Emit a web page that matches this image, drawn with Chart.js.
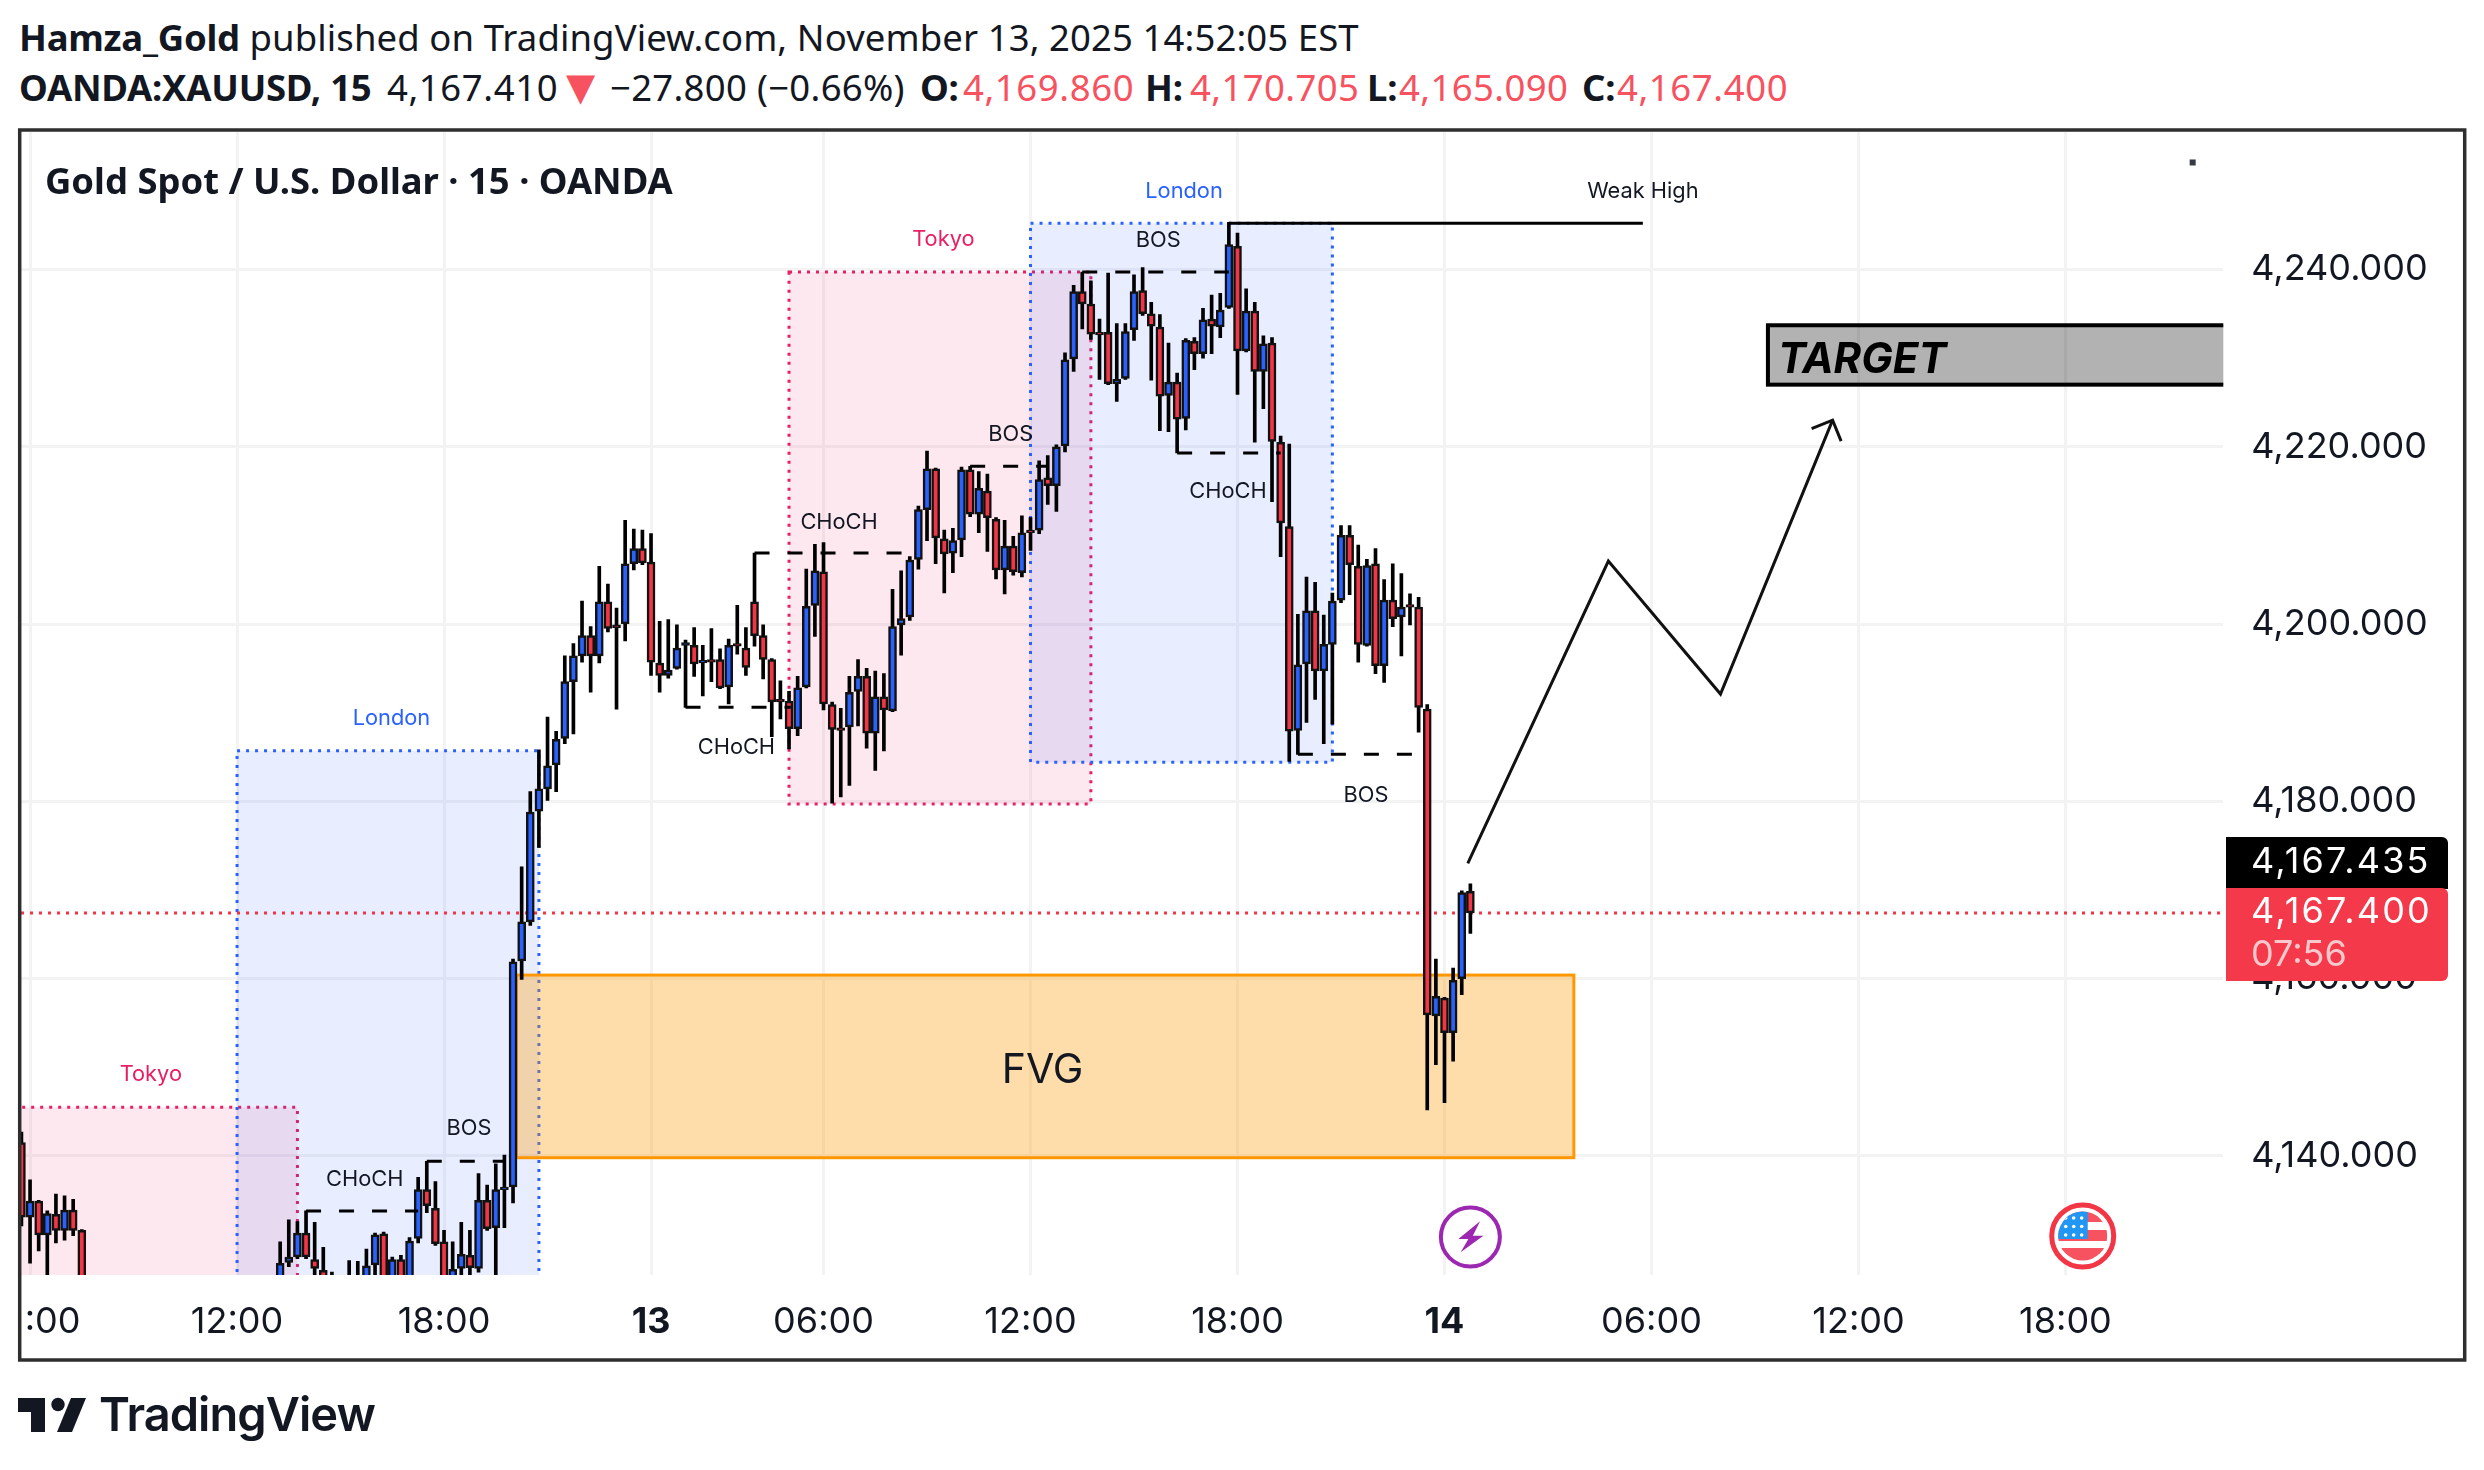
<!DOCTYPE html>
<html lang="en">
<head>
  <meta charset="UTF-8">
  <title>Gold Spot / U.S. Dollar</title>
  <script src="https://cdn.jsdelivr.net/npm/chart.js"></script>
  <style>
    html, body { margin: 0; padding: 0; background: #fff; }
    body { width: 2484px; height: 1470px; position: relative; overflow: hidden; color: #131722; }
    #myChart { position: absolute; left: 0; top: 0; }
    .head { position: absolute; left: 19px; font-family: "Noto Sans", sans-serif; font-size: 36.5px; line-height: 50px; white-space: nowrap; letter-spacing: 0.1px; }
    .head b { font-weight: 700; letter-spacing: -0.25px; }
    .head span { position: absolute; top: 0; }
    .num { letter-spacing: 0.6px; }
    .red { color: #f7525f; }
    .tri { font-family: "DejaVu Sans", sans-serif; font-size: 38px; }
    #title { position: absolute; left: 45px; top: 155px; font-family: "Noto Sans", sans-serif; font-weight: 700; font-size: 36.4px; line-height: 50px; white-space: nowrap; }
    #logoText { position: absolute; left: 99px; top: 1384px; font-family: Inter, sans-serif; font-weight: 600; font-size: 47px; line-height: 60px; letter-spacing: -0.95px; }
    #logo { position: absolute; left: 18px; top: 1397px; }
  </style>
</head>
<body>

  <div class="head" style="top:12px"><b>Hamza_Gold</b> published on TradingView.com, November 13, 2025 14:52:05 EST</div>
  <div class="head" style="top:62px;left:0">
    <span style="left:19px"><b>OANDA:XAUUSD, 15</b></span>
    <span class="num" style="left:387px">4,167.410</span>
    <span class="red tri" style="left:566px">▼</span>
    <span style="left:610px;letter-spacing:0.3px">−27.800 (−0.66%)</span>
    <span style="left:920px"><b>O:</b></span>
    <span class="red num" style="left:963px">4,169.860</span>
    <span style="left:1145px"><b>H:</b></span>
    <span class="red" style="left:1190px;letter-spacing:0.4px">4,170.705</span>
    <span style="left:1367px"><b>L:</b></span>
    <span class="red" style="left:1399px;letter-spacing:0.4px">4,165.090</span>
    <span style="left:1582px"><b>C:</b></span>
    <span class="red num" style="left:1617px">4,167.400</span>
  </div>

  <canvas id="myChart" width="2484" height="1470"></canvas>
  <div id="title">Gold Spot / U.S. Dollar · 15 · OANDA</div>

  <svg id="logo" width="70" height="36" viewBox="0 0 70 36">
    <path fill="#131722" d="M0 1H27V35H13V15H0Z"/>
    <circle fill="#131722" cx="40" cy="7.5" r="6.7"/>
    <path fill="#131722" d="M68 1H53L39 35H54Z"/>
  </svg>
  <div id="logoText">TradingView</div>

<script>
  // bar number -> o/h/l/c. nulls are bars that sit below the visible range
  const opens = [4141.5,4133.1,4134.9,4131.1,4133.4,4131.6,4133.9,4131.6,
    null,null,null,null,null,null,null,null,null,null,null,null,null,null,null,null,null,null,null,null,null,null,
    4124,4128,4128.6,4131.3,4128.3,4127.1,4126,4125,4124,4125,4125.5,4127.7,4131.2,4125.5,4128.3,4125.5,4130.7,4136.2,4134.1,4130.3,
    4125.5,4127.3,4128.8,4127.3,4135,4131.9,4136.2,4136.5,4162,4166.4,4178.9,4181.4,4184.1,4187.1,4193.5,4196.4,4198.7,4196.4,4202.5,4199.9,
    4200,4206.8,4208.5,4207,4195.6,4194.2,4195,4197.6,4197.6,4195.6,4196,4196,4192.9,4197.8,4197.3,4202.5,4198.7,4196,4191.5,4191.3,
    4188.2,4192.9,4202.1,4205.9,4190.9,4188.3,4188.4,4192.4,4194.1,4187.7,4191.8,4190.2,4199.9,4200.8,4207.3,4212.9,4217.5,4209.6,4208,4209.5,
    4217.4,4212.4,4215,4211.8,4206.1,4208.8,4205.8,4210.6,4210.6,4216.5,4215.6,4220.1,4229.9,4237.5,4236.1,4232.9,4232.9,4227.1,4227.7,4233.2,
    4237.6,4235,4233.5,4225.8,4227.3,4223.2,4231.9,4230.5,4234.4,4233.5,4235.7,4242.6,4230.8,4235.3,4228.5,4231.7,4220.5,4211,4188,4195.5,
    4201.5,4194.7,4197.7,4202.7,4210,4206.5,4197.6,4206.8,4195.3,4202.7,4200.8,4202.2,4201.9,4190.4,4155.8,4157.8,4153.9,4160,4169.86];
  const highs = [4142.7,4137.3,4135,4133.8,4135.7,4135.5,4135.1,4131.7,
    null,null,null,null,null,null,null,null,null,null,null,null,null,null,null,null,null,null,null,null,null,null,
    4130.3,4132.8,4132.6,4133.8,4132.5,4129.7,4126.9,4126,4128.2,4128.1,4129.5,4131.3,4131.4,4128.6,4128.8,4130.8,4137.6,4139.4,4137.1,4131.6,
    4130.3,4132.5,4131.6,4138,4136.7,4139.1,4140.1,4162.2,4172.6,4181.1,4185.8,4189.5,4187.9,4196.4,4197.8,4202.6,4199.7,4206.5,4204.5,4201.8,
    4211.7,4210.7,4210.6,4210.2,4200.3,4200.5,4199.9,4198.2,4199.6,4197.6,4199.5,4197.2,4198.3,4202.1,4199.6,4208,4199.9,4196.1,4193.6,4192.4,
    4194.1,4206.2,4209,4209.2,4191.2,4190.5,4194.1,4196,4195,4194.7,4194.4,4203.9,4206,4207.6,4213.3,4219.5,4217.6,4210.6,4210.8,4217.7,
    4217.8,4217.2,4216.9,4212,4211.7,4209.9,4212.2,4212,4218.4,4219,4220.2,4230.6,4238.2,4239.7,4238.7,4234.4,4239.6,4233.9,4233.9,4239.4,
    4240.2,4236.3,4234.9,4231.7,4228.3,4232.2,4232.3,4235.6,4237.1,4237.3,4245.3,4244.1,4237.8,4236.3,4232.5,4232.3,4221.2,4220.3,4201.1,4205.3,
    4204.7,4201,4203.5,4211.1,4211.1,4208.9,4207.3,4208.5,4205,4206.8,4205.7,4203.4,4203,4190.9,4162.2,4157.9,4161.2,4169.9,4170.705];
  const lows = [4132.1,4127.9,4129.3,4125,4130.2,4130.5,4131,4120,
    null,null,null,null,null,null,null,null,null,null,null,null,null,null,null,null,null,null,null,null,null,null,
    4123,4127.5,4128.4,4128.4,4125,4124,4124,4123,4123,4124,4124,4125,4125,4124,4124,4125,4130.2,4133.6,4129.9,4124.5,
    4124,4125,4125,4126.9,4131.6,4125,4131.9,4134.7,4159.9,4166,4174.8,4180.1,4181.1,4186.5,4187.6,4195.7,4192.3,4195.6,4199.1,4190.4,
    4198.1,4206.1,4206.7,4194.2,4192.3,4193.9,4194.9,4190.6,4194.1,4191.9,4193.5,4192.7,4191,4196.6,4194.2,4197.5,4193.8,4187.3,4189.3,4185.9,
    4187.4,4192.8,4198.6,4190.3,4179.8,4180.5,4181.8,4188.5,4186,4183.5,4185.7,4190.1,4196.5,4200.4,4206.2,4209.4,4206.8,4203.5,4205.8,4207.6,
    4212.1,4210.3,4208.2,4205.1,4203.4,4205.5,4205.3,4208.3,4210.2,4213.5,4212.7,4219.4,4228.5,4233.3,4232.1,4227.6,4227,4225.1,4227.6,4232,
    4234.8,4227.5,4221.8,4221.7,4219.3,4221.9,4228.7,4230,4230.5,4232.3,4235.6,4225.9,4230.7,4220.5,4224.3,4213.8,4207.6,4184.5,4185.3,4188.9,
    4191.5,4186.5,4188.7,4202.4,4203.3,4195.7,4197.5,4194.4,4193.4,4199.7,4196.4,4199.9,4187.8,4145.2,4150.3,4146,4150.7,4158.2,4165.09];
  const closes = [4133.1,4134.9,4131.1,4133.5,4131.6,4133.9,4131.6,4122,
    null,null,null,null,null,null,null,null,null,null,null,null,null,null,null,null,null,null,null,null,null,null,
    4127.9,4128.6,4131.3,4128.6,4127.3,4126,4125,4124.5,4125,4125.5,4127.6,4131.1,4125.5,4128.3,4125.5,4130.4,4136.2,4134.4,4130.1,4125.5,
    4127.2,4128.9,4127.4,4135,4131.8,4136.2,4136.5,4161.9,4166.4,4178.8,4181.4,4184,4187,4193.5,4196.4,4198.7,4196.4,4202.5,4199.5,4199.6,
    4206.8,4208.5,4206.9,4195.7,4194.2,4194.8,4197.3,4197.9,4195.5,4195.9,4195.7,4192.8,4197.6,4197.5,4195.1,4198.7,4196,4191.2,4191.2,4188.2,
    4192.8,4202,4206,4191,4188.1,4188,4192.3,4194.1,4187.7,4191.8,4190.3,4199.7,4200.6,4207.2,4212.9,4217.5,4209.7,4207.9,4209.4,4217.4,
    4212.4,4215.3,4212,4206.1,4208.8,4205.9,4210.3,4210.3,4216.3,4215.6,4220,4229.8,4237.5,4236.1,4232.7,4232.6,4227.1,4227.6,4233,4237.5,
    4235,4233.6,4225.7,4227.3,4223.1,4232,4230.5,4234.3,4233.6,4235.4,4242.8,4230.8,4235.3,4228.5,4231.6,4220.6,4211.4,4187.9,4195.4,4201.5,
    4194.7,4197.7,4202.6,4210,4206.7,4197.7,4206.6,4195.3,4202.7,4200.6,4201.9,4201.9,4190.6,4155.9,4158,4153.9,4159.8,4169.7,4167.4];

  const xMin = -0.05;
  const xMax = 255.3;
  const yMin = 4126.57;
  const yMax = 4255.5;
  const priceTicks = [4140, 4160, 4180, 4200, 4220, 4240];
  const timePositions = [1, 25, 49, 73, 93, 117, 141, 165, 189, 213, 237];
  const timeLabels = ['06:00', '12:00', '18:00', '13', '06:00', '12:00', '18:00', '14', '06:00', '12:00', '18:00'];
  const dayLabels = ['13', '14'];

  // x0, x1 in bars, y0, y1 in price
  const tokyoZones = [[-2, 32, 4145.5, 4100], [89, 124, 4239.7, 4179.7]];
  const londonZones = [[25, 60, 4185.7, 4100], [117, 152, 4245.2, 4184.4]];
  const fvgZone = [57.4, 180, 4160.4, 4139.8];
  const targetZone = [202.5, 270, 4233.7, 4227];

  // bar, bar, price
  const dashedLines = [
    [47, 56, 4139.4], [33, 46, 4133.8], [77, 89.2, 4190.6], [85, 103, 4208],
    [110, 119, 4217.8], [123, 140, 4239.7], [134, 146, 4219.3], [148, 161.5, 4185.3]
  ];
  const weakHighLine = [140, 188, 4245.2];
  const pathBars = [167.7, 184, 197, 210];
  const pathPrices = [4173, 4207.1, 4192.1, 4223];

  const noteTexts = ['CHoCH', 'BOS', 'CHoCH', 'CHoCH', 'BOS', 'BOS', 'CHoCH', 'BOS', 'Weak High'];
  const noteBars = [39.8, 51.9, 82.9, 94.8, 114.7, 131.8, 139.9, 155.9, 188];
  const notePrices = [4137.4, 4143.1, 4186.1, 4211.5, 4221.4, 4243.3, 4214.9, 4180.7, 4248.8];
  const sessionTexts = ['Tokyo', 'London', 'Tokyo', 'London'];
  const sessionBars = [15, 42.9, 106.9, 134.8];
  const sessionPrices = [4149.2, 4189.3, 4243.4, 4248.8];

  const lastPrice = 4167.4;
  const eventBar = 168;
  const flagBar = 239;

  const tickFont = 'Inter, sans-serif';
  const upColor = '#2962ff';
  const downColor = '#f23645';

  function fmt(v) {
    return v.toLocaleString('en-US', { minimumFractionDigits: 3, maximumFractionDigits: 3 });
  }

  var wickData = [];
  var bodyData = [];
  var bodyColors = [];
  opens.forEach(function (o, i) {
    if (o === null) return;
    wickData.push({ x: i, y: [lows[i], highs[i]] });
    bodyData.push({ x: i, y: [o, closes[i]] });
    bodyColors.push(closes[i] >= o ? upColor : downColor);
  });

  function edgeStroke(ctx, color, a, b, c, d) {
    ctx.strokeStyle = color;
    ctx.lineWidth = 3;
    ctx.setLineDash([3, 6]);
    ctx.beginPath();
    ctx.moveTo(a, c); ctx.lineTo(b, c); ctx.lineTo(b, d); ctx.lineTo(a, d); ctx.closePath();
    ctx.stroke();
    ctx.setLineDash([]);
  }

  const drawings = {
    id: 'drawings',
    beforeDatasetsDraw(chart) {
      const ctx = chart.ctx, x = chart.scales.x, y = chart.scales.y, area = chart.chartArea;
      ctx.save();
      ctx.beginPath();
      ctx.rect(area.left, area.top, area.right - area.left, area.bottom - area.top);
      ctx.clip();

      tokyoZones.forEach(function (z) {
        const a = x.getPixelForValue(z[0]), b = x.getPixelForValue(z[1]), c = y.getPixelForValue(z[2]), d = y.getPixelForValue(z[3]);
        ctx.fillStyle = 'rgba(233,30,99,0.1)';
        ctx.fillRect(a, c, b - a, d - c);
        edgeStroke(ctx, '#e91e63', a, b, c, d);
      });
      londonZones.forEach(function (z) {
        const a = x.getPixelForValue(z[0]), b = x.getPixelForValue(z[1]), c = y.getPixelForValue(z[2]), d = y.getPixelForValue(z[3]);
        ctx.fillStyle = 'rgba(41,98,255,0.11)';
        ctx.fillRect(a, c, b - a, d - c);
        edgeStroke(ctx, '#2962ff', a, b, c, d);
      });

      // FVG box
      var a = x.getPixelForValue(fvgZone[0]), b = x.getPixelForValue(fvgZone[1]), c = y.getPixelForValue(fvgZone[2]), d = y.getPixelForValue(fvgZone[3]);
      ctx.fillStyle = 'rgba(255,152,0,0.33)';
      ctx.fillRect(a, c, b - a, d - c);
      ctx.strokeStyle = '#ff9800';
      ctx.lineWidth = 3;
      ctx.strokeRect(a, c, b - a, d - c);

      // target box, runs off the right edge
      a = x.getPixelForValue(targetZone[0]); b = x.getPixelForValue(targetZone[1]); c = y.getPixelForValue(targetZone[2]); d = y.getPixelForValue(targetZone[3]);
      ctx.fillStyle = 'rgba(0,0,0,0.3)';
      ctx.fillRect(a, c, b - a, d - c);
      ctx.strokeStyle = '#000';
      ctx.lineWidth = 4;
      ctx.strokeRect(a, c, b - a, d - c);

      // last price line
      ctx.strokeStyle = downColor;
      ctx.lineWidth = 3;
      ctx.setLineDash([3, 6]);
      ctx.beginPath();
      ctx.moveTo(area.left, y.getPixelForValue(lastPrice));
      ctx.lineTo(area.right, y.getPixelForValue(lastPrice));
      ctx.stroke();
      ctx.setLineDash([]);
      ctx.restore();
    },
    afterDatasetsDraw(chart) {
      const ctx = chart.ctx, x = chart.scales.x, y = chart.scales.y, area = chart.chartArea;
      ctx.save();

      ctx.strokeStyle = '#000';
      ctx.lineWidth = 3;
      ctx.setLineDash([15, 18]);
      dashedLines.forEach(function (l) {
        ctx.beginPath();
        ctx.moveTo(x.getPixelForValue(l[0]), y.getPixelForValue(l[2]));
        ctx.lineTo(x.getPixelForValue(l[1]), y.getPixelForValue(l[2]));
        ctx.stroke();
      });
      ctx.setLineDash([]);

      ctx.beginPath();
      ctx.moveTo(x.getPixelForValue(weakHighLine[0]), y.getPixelForValue(weakHighLine[2]));
      ctx.lineTo(x.getPixelForValue(weakHighLine[1]), y.getPixelForValue(weakHighLine[2]));
      ctx.stroke();

      // projected path with the arrow head
      ctx.strokeStyle = '#111';
      ctx.lineJoin = 'miter';
      ctx.beginPath();
      pathBars.forEach(function (b, i) {
        const px = x.getPixelForValue(b), py = y.getPixelForValue(pathPrices[i]);
        if (i === 0) ctx.moveTo(px, py); else ctx.lineTo(px, py);
      });
      ctx.stroke();
      const tipX = x.getPixelForValue(pathBars[3]), tipY = y.getPixelForValue(pathPrices[3]);
      ctx.beginPath();
      ctx.moveTo(tipX - 21, tipY + 8.5);
      ctx.lineTo(tipX, tipY);
      ctx.lineTo(tipX + 8.5, tipY + 21);
      ctx.stroke();

      ctx.textAlign = 'center';
      ctx.textBaseline = 'alphabetic';
      ctx.textBaseline = 'middle';
      ctx.font = '21.8px ' + tickFont;
      ctx.fillStyle = '#131722';
      noteTexts.forEach(function (t, i) {
        ctx.fillText(t, x.getPixelForValue(noteBars[i]), y.getPixelForValue(notePrices[i]));
      });
      sessionTexts.forEach(function (t, i) {
        ctx.fillStyle = t === 'Tokyo' ? '#e91e63' : '#2962ff';
        ctx.fillText(t, x.getPixelForValue(sessionBars[i]), y.getPixelForValue(sessionPrices[i]));
      });

      ctx.fillStyle = '#131722';
      ctx.font = '41px ' + tickFont;
      ctx.fillText('FVG', x.getPixelForValue((fvgZone[0] + fvgZone[1]) / 2 - 0.3), y.getPixelForValue(fvgZone[3]) - 87);

      ctx.fillStyle = '#000';
      ctx.textAlign = 'left';
      ctx.font = 'italic 700 42px ' + tickFont;
      ctx.fillText('TARGET', x.getPixelForValue(targetZone[0]) + 10, (y.getPixelForValue(targetZone[2]) + y.getPixelForValue(targetZone[3])) / 2 + 5);

      // stray dot top right
      ctx.fillStyle = '#363a45';
      ctx.fillRect(x.getPixelForValue(251.4), y.getPixelForValue(4252.4), 6, 6);

      // event icons on the bottom of the pane
      const ev = x.getPixelForValue(eventBar), evY = area.bottom - 38;
      ctx.fillStyle = '#fff';
      ctx.strokeStyle = '#9c27b0';
      ctx.lineWidth = 4;
      ctx.beginPath();
      ctx.arc(ev, evY, 29.5, 0, Math.PI * 2);
      ctx.fill();
      ctx.stroke();
      ctx.fillStyle = '#9c27b0';
      ctx.beginPath();
      ctx.moveTo(ev + 9.7, evY - 15.7);
      ctx.lineTo(ev - 12, evY + 2);
      ctx.lineTo(ev - 2, evY + 2);
      ctx.lineTo(ev - 9.7, evY + 15.3);
      ctx.lineTo(ev + 13, evY - 1.3);
      ctx.lineTo(ev + 2.5, evY - 1.3);
      ctx.closePath();
      ctx.fill();

      const fx = x.getPixelForValue(flagBar), fy = area.bottom - 39;
      ctx.fillStyle = '#fff';
      ctx.strokeStyle = downColor;
      ctx.lineWidth = 5;
      ctx.beginPath();
      ctx.arc(fx, fy, 31, 0, Math.PI * 2);
      ctx.fill();
      ctx.stroke();
      ctx.save();
      ctx.beginPath();
      ctx.arc(fx, fy, 24.5, 0, Math.PI * 2);
      ctx.clip();
      ctx.fillStyle = '#f7525f';
      ctx.fillRect(fx - 25, fy - 25, 50, 11);
      ctx.fillRect(fx - 25, fy - 6, 50, 11);
      ctx.fillRect(fx - 25, fy + 12, 50, 13);
      ctx.fillStyle = '#2196f3';
      ctx.fillRect(fx - 25, fy - 25, 30, 28);
      ctx.fillStyle = '#fff';
      [-18, -9.5, -1].forEach(function (dy) {
        [-17, -9, -1].forEach(function (dx) {
          ctx.beginPath();
          ctx.arc(fx + dx, fy + dy, 1.8, 0, Math.PI * 2);
          ctx.fill();
        });
      });
      ctx.restore();

      // price labels on the axis
      ctx.fillStyle = '#000';
      ctx.beginPath();
      ctx.roundRect(2226, 837, 222, 52, [0, 6, 0, 0]);
      ctx.fill();
      ctx.fillStyle = '#f4394a';
      ctx.beginPath();
      ctx.roundRect(2226, 888, 222, 93, [0, 6, 6, 0]);
      ctx.fill();
      ctx.textAlign = 'left';
      ctx.font = '36px ' + tickFont;
      ctx.fillStyle = '#fff';
      ctx.letterSpacing = '2.2px';
      ctx.fillText('4,167.435', 2251, 862);
      ctx.fillText(fmt(lastPrice), 2251, 912);
      ctx.letterSpacing = '0px';
      ctx.fillStyle = 'rgba(255,255,255,0.72)';
      ctx.fillText('07:56', 2251, 955);
      ctx.restore();
    },
    afterDraw(chart) {
      const ctx = chart.ctx;
      ctx.save();
      // the first time label is cut by the frame
      ctx.fillStyle = '#fff';
      ctx.fillRect(0, 1280, 26, 78);
      ctx.fillRect(0, 1280, 18, 100);
      ctx.strokeStyle = '#2e2e2e';
      ctx.lineWidth = 3.5;
      ctx.strokeRect(19.7, 130, 2445, 1230);
      ctx.restore();
    }
  };

  new Chart(document.getElementById('myChart'), {
    type: 'bar',
    data: {
      datasets: [
        { label: 'wick', data: wickData, backgroundColor: '#000', borderWidth: 0, barThickness: 3, order: 2, grouped: false },
        { label: 'body', data: bodyData, backgroundColor: bodyColors, borderColor: '#111', borderWidth: 2.5, borderSkipped: false, barThickness: 8, order: 1, grouped: false }
      ]
    },
    options: {
      responsive: false,
      animation: false,
      layout: { padding: { left: 21, top: 132, right: 19, bottom: 110 } },
      plugins: { legend: { display: false }, tooltip: { enabled: false } },
      scales: {
        x: {
          type: 'linear',
          offset: false,
          min: xMin,
          max: xMax,
          grid: { offset: false, color: '#f3f3f4', lineWidth: 3, drawTicks: false },
          border: { display: false },
          afterBuildTicks(axis) { axis.ticks = timePositions.map(function (v) { return { value: v }; }); },
          afterFit(axis) { axis.height = 85; axis.paddingLeft = 0; axis.paddingRight = 0; },
          ticks: {
            autoSkip: false,
            maxRotation: 0,
            padding: 26,
            color: '#131722',
            font(ctx) {
              const label = timeLabels[timePositions.indexOf(ctx.tick ? ctx.tick.value : -1)];
              return { family: tickFont, size: 36, weight: dayLabels.includes(label) ? '700' : '400' };
            },
            callback(v) { return timeLabels[timePositions.indexOf(v)]; }
          }
        },
        y: {
          position: 'right',
          min: yMin,
          max: yMax,
          grid: { color: '#f3f3f4', lineWidth: 3, drawTicks: false },
          border: { display: false },
          afterBuildTicks(axis) { axis.ticks = priceTicks.map(function (v) { return { value: v }; }); },
          afterFit(axis) { axis.width = 241.7; },
          ticks: { padding: 28, color: '#131722', font: { family: tickFont, size: 36 }, callback(v) { return fmt(v); } }
        }
      }
    },
    plugins: [drawings]
  });
</script>
</body>
</html>
